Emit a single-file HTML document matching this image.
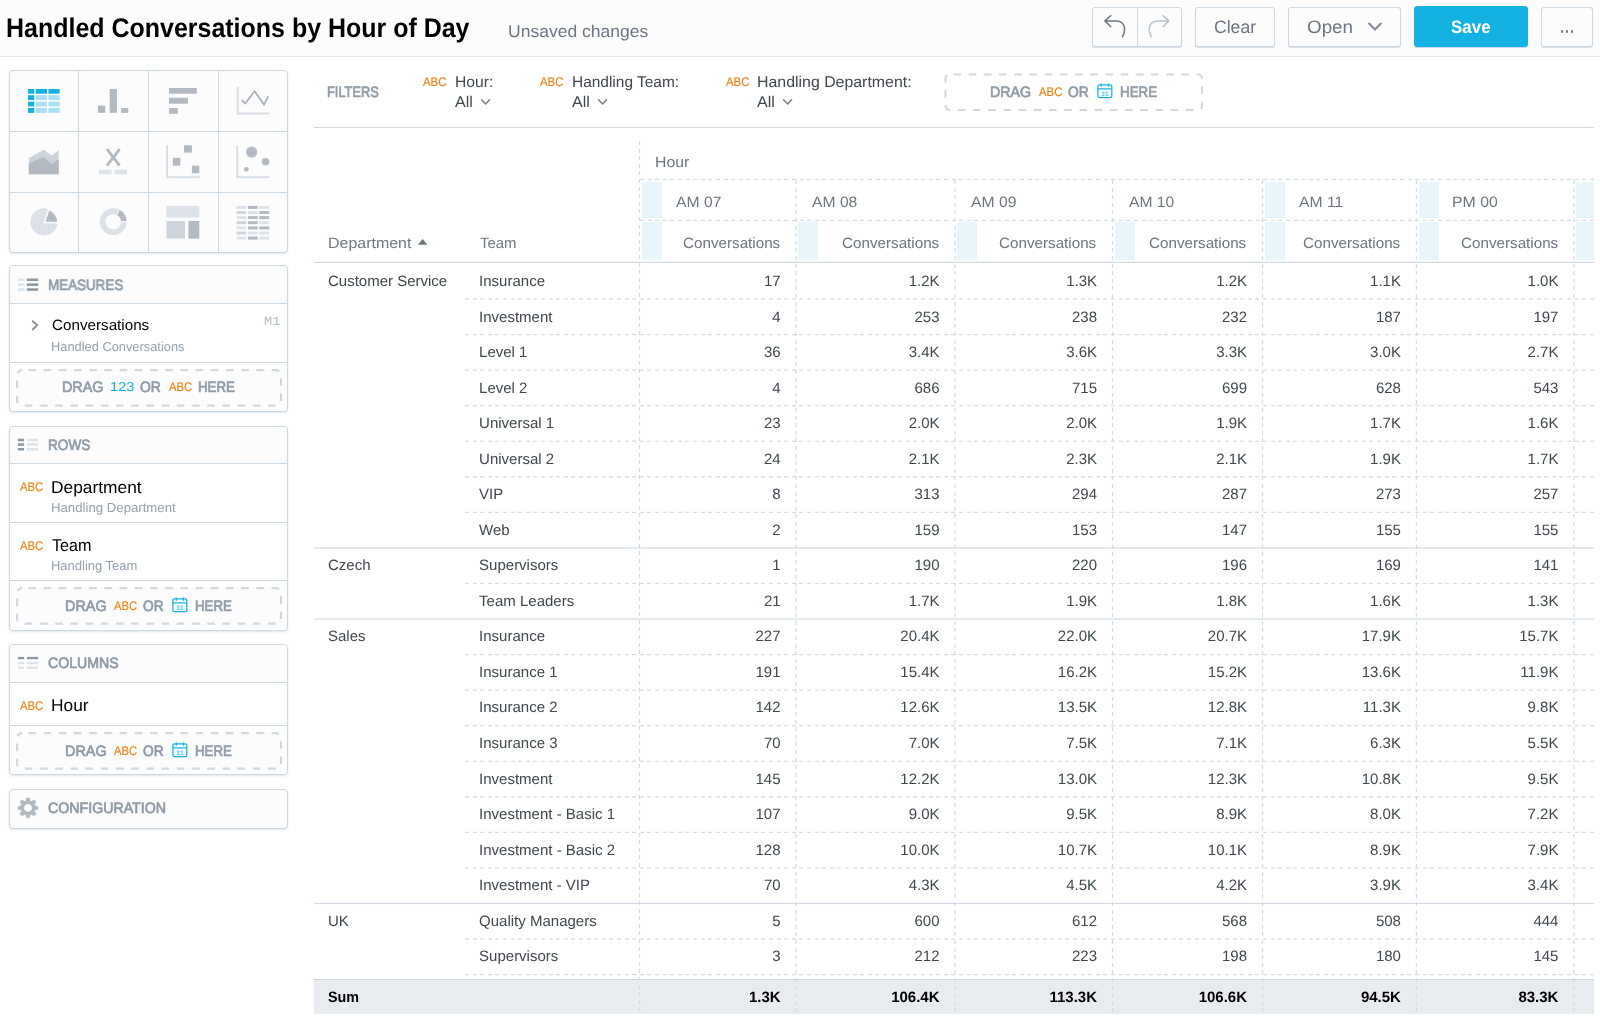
<!DOCTYPE html><html><head><meta charset="utf-8"><title>Handled Conversations by Hour of Day</title><style>
*{box-sizing:border-box;margin:0;padding:0}
html,body{width:1600px;height:1021px;overflow:hidden;background:#fff}
body{font-family:"Liberation Sans",sans-serif;color:#3f474f;position:relative}
#w{position:absolute;left:0;top:0;width:1600px;height:1021px;will-change:transform;text-rendering:geometricPrecision}
.a{position:absolute;white-space:pre;line-height:20px;transform-origin:0 0}
.hdr{position:absolute;left:0;top:0;width:1600px;height:57px;background:#fcfcfd;border-bottom:1px solid #dde4eb}
.btn{position:absolute;top:7px;height:40px;border:1px solid #ccd8e2;border-radius:3px;background:#fcfcfd;box-shadow:0 1px 1px rgba(20,56,93,.15)}
.box{position:absolute;left:9px;width:279px;border:1px solid #ccd8e2;border-radius:4px;background:#fff;box-shadow:0 1px 2px rgba(20,56,93,.12);overflow:hidden}
.bh{position:absolute;left:0;top:0;width:100%;background:#fcfcfd;border-bottom:1px solid #ccd8e2}
.hl{position:absolute;left:0;width:100%;height:1px;background:#ccd8e2}
.drop{position:absolute;left:6px;width:266px;border-radius:5px;background:#fcfcfd}
.bt{color:#8f9ba6;-webkit-text-stroke:0.7px #8f9ba6}
.abc{color:#ef800f;-webkit-text-stroke:0.15px #ef800f}
.sub{color:#94a1ad}
.k{color:#000}
.hd{position:absolute;height:1px;background:repeating-linear-gradient(to right,#d3dbe3 0,#d3dbe3 4px,transparent 4px,transparent 7.6px)}
.vd{position:absolute;width:1px;background:repeating-linear-gradient(to bottom,#d3dbe3 0,#d3dbe3 4px,transparent 4px,transparent 7.6px)}
.sl{position:absolute;height:1px;background:#d3dce5}
.t{font-size:15px;color:#3f474f}
.th{color:#6d7680}
.bl{position:absolute;background:#e8f6fc}
.b{font-weight:700;color:#000}
</style></head><body><div id="w"><div class="hdr"></div><div class="a k" style="left:6.48px;top:18px;font-size:27px;transform:scaleX(0.9250);;font-weight:700">Handled Conversations by Hour of Day</div><div class="a " style="left:508.39px;top:22px;font-size:17px;transform:scaleX(1.0304);color:#6d7680">Unsaved changes</div><div class="btn" style="left:1092px;width:90px"></div><div class="a" style="left:1137px;top:8px;width:1px;height:38px;background:#ccd8e2"></div><svg class="a" style="left:1095px;top:8px" width="85" height="38" viewBox="1095 8 85 38"><path d="M1111.3 15.2 L1104.9 20.9 L1111.1 27 M1105.2 20.9 H1116 C1123.5 20.9 1127.3 27.5 1122.2 37.3" fill="none" stroke="#6d7680" stroke-width="1.5" stroke-linejoin="round"/><path d="M1162.5 15.2 L1168.9 20.9 L1162.7 27 M1168.6 20.9 H1158 C1150.3 20.9 1146.5 27.5 1151.6 37.3" fill="none" stroke="#b8c2cc" stroke-width="1.5" stroke-linejoin="round"/></svg><div class="btn" style="left:1195px;width:80px"></div><div class="a " style="left:1213.92px;top:17px;font-size:18px;transform:scaleX(0.9773);color:#6d7680">Clear</div><div class="btn" style="left:1288px;width:113px"></div><div class="a " style="left:1306.75px;top:17px;font-size:18px;transform:scaleX(1.0446);color:#6d7680">Open</div><svg class="a" style="left:1365px;top:19px" width="20" height="14" viewBox="1365 19 20 14"><path d="M1369.1 23.6 L1375 29.6 L1380.9 23.6" fill="none" stroke="#828c96" stroke-width="2.1" stroke-linecap="round" stroke-linejoin="round"/></svg><div class="btn" style="left:1414px;width:114px;top:6px;height:41px;background:#14b2e2;border-color:#14b2e2;box-shadow:0 1px 1px rgba(20,56,93,.2)"></div><div class="a " style="left:1450.58px;top:17px;font-size:18px;transform:scaleX(0.9442);color:#fff;font-weight:700">Save</div><div class="btn" style="left:1541px;width:52px"></div><div class="a" style="left:1560.8px;top:30.4px;width:2.4px;height:2.6px;background:#6d7680;border-radius:1px"></div><div class="a" style="left:1565.9px;top:30.4px;width:2.4px;height:2.6px;background:#6d7680;border-radius:1px"></div><div class="a" style="left:1571px;top:30.4px;width:2.4px;height:2.6px;background:#6d7680;border-radius:1px"></div><div class="box" style="top:70px;height:183px;background:#fcfcfd"><div class="a" style="left:68px;top:0;width:1px;height:182px;background:#ccd8e2"></div><div class="a" style="left:138px;top:0;width:1px;height:182px;background:#ccd8e2"></div><div class="a" style="left:208px;top:0;width:1px;height:182px;background:#ccd8e2"></div><div class="a" style="left:0;top:60px;width:279px;height:1px;background:#ccd8e2"></div><div class="a" style="left:0;top:121px;width:279px;height:1px;background:#ccd8e2"></div></div><svg class="a" style="left:10px;top:71px" width="278" height="181" viewBox="10 71 278 181"><rect x="28.00" y="89.00" width="6.30" height="4.70" fill="#14b2e2"/><rect x="35.60" y="89.00" width="11.40" height="4.70" fill="#14b2e2"/><rect x="48.40" y="89.00" width="11.30" height="4.70" fill="#14b2e2"/><rect x="28.00" y="95.20" width="6.30" height="4.80" fill="#14b2e2"/><rect x="35.60" y="95.20" width="11.40" height="4.80" fill="#a9def3"/><rect x="48.40" y="95.20" width="11.30" height="4.80" fill="#a9def3"/><rect x="28.00" y="101.70" width="6.30" height="4.70" fill="#14b2e2"/><rect x="35.60" y="101.70" width="11.40" height="4.70" fill="#a9def3"/><rect x="48.40" y="101.70" width="11.30" height="4.70" fill="#a9def3"/><rect x="28.00" y="108.00" width="6.30" height="4.90" fill="#14b2e2"/><rect x="35.60" y="108.00" width="11.40" height="4.90" fill="#a9def3"/><rect x="48.40" y="108.00" width="11.30" height="4.90" fill="#a9def3"/><rect x="97.90" y="105.60" width="7.40" height="7.30" fill="#b3bac1"/><rect x="109.70" y="89.00" width="7.20" height="23.90" fill="#b3bac1"/><rect x="121.00" y="108.00" width="7.30" height="4.90" fill="#b3bac1"/><rect x="169.00" y="88.00" width="27.80" height="5.70" fill="#b3bac1"/><rect x="169.00" y="97.80" width="19.00" height="5.90" fill="#b3bac1"/><rect x="169.00" y="108.00" width="8.80" height="5.80" fill="#b3bac1"/><rect x="236.80" y="87.00" width="1.90" height="27.40" fill="#d6dde4"/><rect x="236.80" y="112.50" width="32.40" height="1.90" fill="#d6dde4"/><path d="M241.8 100.1 L245.2 103.5 L254.6 91.3 L264 104.6 L268.3 96.2" fill="none" stroke="#a9b1b9" stroke-width="1.8" stroke-linejoin="miter"/><path d="M28.8 157.9 L44 149.7 L51.9 155.6 L58.7 150.1 V174.2 H28.8 Z" fill="#cdd4db"/><path d="M28.8 163.6 L43.6 157 L52 163.9 L58.7 159 V174.2 H28.8 Z" fill="#b3bac1"/><path d="M107 149.2 L119.6 165.7 M119.6 149.2 L107 165.7" fill="none" stroke="#b3bac1" stroke-width="2.8"/><rect x="98.90" y="169.70" width="12.70" height="4.50" fill="#dce2e8"/><rect x="114.50" y="169.70" width="12.40" height="4.50" fill="#dce2e8"/><rect x="166.20" y="145.20" width="1.90" height="32.90" fill="#d6dde4"/><rect x="166.20" y="176.20" width="33.50" height="1.90" fill="#d6dde4"/><rect x="184.00" y="145.20" width="7.90" height="7.40" fill="#b3bac1"/><rect x="172.90" y="157.90" width="7.40" height="7.80" fill="#b3bac1"/><rect x="191.90" y="165.70" width="7.40" height="7.50" fill="#b3bac1"/><rect x="236.30" y="145.20" width="1.90" height="32.90" fill="#d6dde4"/><rect x="236.30" y="176.20" width="32.90" height="1.90" fill="#d6dde4"/><circle cx="251.6" cy="152" r="5.6" fill="#b3bac1"/><circle cx="265.5" cy="161.8" r="3.8" fill="#b3bac1"/><circle cx="246.3" cy="169.3" r="2.4" fill="#b3bac1"/><circle cx="44" cy="221.9" r="13.6" fill="#dce2e8"/><path d="M44.4 222.6 L48.8 209.6 A13.6 13.6 0 0 1 58 222.6 Z" fill="#b3bac1" stroke="#fcfcfd" stroke-width="1.6" stroke-linejoin="miter"/><circle cx="113.2" cy="221.7" r="10.6" fill="none" stroke="#dce2e8" stroke-width="5.6"/><path d="M118 212.3 A10.6 10.6 0 0 1 123.8 221.7" fill="none" stroke="#b3bac1" stroke-width="5.6"/><path d="M116.6 215.2 L119.4 209.6 M120.6 221.7 H126.8" stroke="#fcfcfd" stroke-width="1" fill="none"/><rect x="166.40" y="205.90" width="32.90" height="11.70" fill="#dce2e8"/><rect x="166.40" y="221.00" width="18.60" height="17.60" fill="#cdd4db"/><rect x="188.40" y="221.00" width="10.90" height="17.60" fill="#b3bac1"/><rect x="236.50" y="205.90" width="9.80" height="3.00" fill="#dce2e8"/><rect x="247.90" y="205.90" width="9.80" height="3.00" fill="#b3bac1"/><rect x="259.30" y="205.90" width="9.90" height="3.00" fill="#dce2e8"/><rect x="236.50" y="211.00" width="9.80" height="3.00" fill="#cdd4db"/><rect x="247.90" y="211.00" width="9.80" height="3.00" fill="#dce2e8"/><rect x="259.30" y="211.00" width="9.90" height="3.00" fill="#b3bac1"/><rect x="236.50" y="216.10" width="9.80" height="3.00" fill="#dce2e8"/><rect x="247.90" y="216.10" width="9.80" height="3.00" fill="#b3bac1"/><rect x="259.30" y="216.10" width="9.90" height="3.00" fill="#b3bac1"/><rect x="236.50" y="221.20" width="9.80" height="3.00" fill="#cdd4db"/><rect x="247.90" y="221.20" width="9.80" height="3.00" fill="#b3bac1"/><rect x="259.30" y="221.20" width="9.90" height="3.00" fill="#dce2e8"/><rect x="236.50" y="226.40" width="9.80" height="3.00" fill="#dce2e8"/><rect x="247.90" y="226.40" width="9.80" height="3.00" fill="#b3bac1"/><rect x="259.30" y="226.40" width="9.90" height="3.00" fill="#b3bac1"/><rect x="236.50" y="231.50" width="9.80" height="3.00" fill="#cdd4db"/><rect x="247.90" y="231.50" width="9.80" height="3.00" fill="#dce2e8"/><rect x="259.30" y="231.50" width="9.90" height="3.00" fill="#dce2e8"/><rect x="236.50" y="236.60" width="9.80" height="3.00" fill="#dce2e8"/><rect x="247.90" y="236.60" width="9.80" height="3.00" fill="#b3bac1"/><rect x="259.30" y="236.60" width="9.90" height="3.00" fill="#dce2e8"/></svg><div class="box" style="top:265px;height:147px"><div class="bh" style="height:38px"></div><div class="hl" style="top:96px"></div><div class="drop" style="top:103px;height:38px"></div></div><div class="box" style="top:426px;height:205px"><div class="bh" style="height:37px"></div><div class="hl" style="top:95px"></div><div class="hl" style="top:153px"></div><div class="drop" style="top:160px;height:38px"></div></div><div class="box" style="top:644px;height:131px"><div class="bh" style="height:38px"></div><div class="hl" style="top:80px"></div><div class="drop" style="top:87px;height:38px"></div></div><div class="box" style="top:789px;height:40px;background:#fcfcfd"></div><svg class="a" style="left:16px;top:276px" width="24" height="396" viewBox="16 276 24 396"><rect x="18.00" y="278.50" width="6.50" height="2.50" fill="#dde3e8"/><rect x="26.80" y="278.50" width="11.40" height="2.50" fill="#8c97a1"/><rect x="18.00" y="283.40" width="6.50" height="2.50" fill="#dde3e8"/><rect x="26.80" y="283.40" width="11.40" height="2.50" fill="#8c97a1"/><rect x="18.00" y="288.30" width="6.50" height="2.50" fill="#dde3e8"/><rect x="26.80" y="288.30" width="11.40" height="2.50" fill="#8c97a1"/><rect x="17.90" y="438.75" width="6.20" height="2.50" fill="#8c97a1"/><rect x="26.90" y="438.75" width="11.20" height="2.50" fill="#dde3e8"/><rect x="17.90" y="443.30" width="6.20" height="2.50" fill="#8c97a1"/><rect x="26.90" y="443.30" width="11.20" height="2.50" fill="#dde3e8"/><rect x="17.90" y="448.00" width="6.20" height="2.50" fill="#8c97a1"/><rect x="26.90" y="448.00" width="11.20" height="2.50" fill="#dde3e8"/><rect x="17.90" y="656.90" width="6.20" height="2.30" fill="#8c97a1"/><rect x="26.90" y="656.90" width="11.20" height="2.30" fill="#8c97a1"/><rect x="17.90" y="661.90" width="6.20" height="2.30" fill="#dde3e8"/><rect x="26.90" y="661.90" width="11.20" height="2.30" fill="#dde3e8"/><rect x="17.90" y="666.60" width="6.20" height="2.30" fill="#dde3e8"/><rect x="26.90" y="666.60" width="11.20" height="2.30" fill="#dde3e8"/></svg><svg class="a" style="left:16px;top:796px" width="24" height="24" viewBox="16 796 24 24"><path d="M37.89 806.41 L37.89 809.39 L35.05 809.78 L34.32 811.56 L36.05 813.83 L33.93 815.95 L31.66 814.22 L29.88 814.95 L29.49 817.79 L26.51 817.79 L26.12 814.95 L24.34 814.22 L22.07 815.95 L19.95 813.83 L21.68 811.56 L20.95 809.78 L18.11 809.39 L18.11 806.41 L20.95 806.02 L21.68 804.24 L19.95 801.97 L22.07 799.85 L24.34 801.58 L26.12 800.85 L26.51 798.01 L29.49 798.01 L29.88 800.85 L31.66 801.58 L33.93 799.85 L36.05 801.97 L34.32 804.24 L35.05 806.02 Z M32.2 807.9 A4.2 4.2 0 1 0 23.8 807.9 A4.2 4.2 0 1 0 32.2 807.9 Z" fill="#b0b8c0" fill-rule="evenodd" stroke="#b0b8c0" stroke-width="0.6" stroke-linejoin="round"/></svg><svg class="a" style="left:13.5px;top:366.5px" width="270.1" height="41.69999999999999"><rect x="3.1" y="3.1" width="263.90000000000003" height="35.499999999999986" rx="5" fill="none" stroke="#d0d8e0" stroke-width="2.2" stroke-dasharray="7.6 7.6" stroke-dashoffset="-6.3"/></svg><svg class="a" style="left:13.5px;top:585px" width="270.1" height="41.700000000000045"><rect x="3.1" y="3.1" width="263.90000000000003" height="35.50000000000004" rx="5" fill="none" stroke="#d0d8e0" stroke-width="2.2" stroke-dasharray="7.6 7.6" stroke-dashoffset="-6.3"/></svg><svg class="a" style="left:13.5px;top:730px" width="270.1" height="41.700000000000045"><rect x="3.1" y="3.1" width="263.90000000000003" height="35.50000000000004" rx="5" fill="none" stroke="#d0d8e0" stroke-width="2.2" stroke-dasharray="7.6 7.6" stroke-dashoffset="-6.3"/></svg><div class="a bt" style="left:47.93px;top:276px;font-size:15px;transform:scaleX(0.8937);">MEASURES</div><div class="a bt" style="left:47.61px;top:436px;font-size:15px;transform:scaleX(0.9075);">ROWS</div><div class="a bt" style="left:47.99px;top:654px;font-size:15px;transform:scaleX(0.9423);">COLUMNS</div><div class="a bt" style="left:47.99px;top:799px;font-size:15px;transform:scaleX(0.9464);">CONFIGURATION</div><svg class="a" style="left:29px;top:318px" width="12" height="15" viewBox="29 318 12 15"><path d="M32.2 320.6 L37.2 325.3 L32.2 330" fill="none" stroke="#8a939c" stroke-width="1.9" stroke-linejoin="miter"/></svg><div class="a k" style="left:51.74px;top:316px;font-size:15px;transform:scaleX(1.0140);">Conversations</div><div class="a sub" style="left:51.47px;top:337px;font-size:13px;transform:scaleX(0.9877);">Handled Conversations</div><div class="a " style="left:263.88px;top:312px;font-size:12.5px;transform:scaleX(1.0886);font-family:'Liberation Mono',monospace;color:#b0beca">M1</div><div class="a bt" style="left:61.85px;top:378px;font-size:15px;transform:scaleX(0.9555);">DRAG</div><div class="a " style="left:109.70px;top:377px;font-size:13px;transform:scaleX(1.1266);color:#14b2e2">123</div><div class="a bt" style="left:139.98px;top:378px;font-size:15px;transform:scaleX(0.9234);">OR</div><div class="a abc" style="left:169.00px;top:377px;font-size:12.5px;transform:scaleX(0.9069);">ABC</div><div class="a bt" style="left:197.64px;top:378px;font-size:15px;transform:scaleX(0.8864);">HERE</div><div class="a abc" style="left:20.30px;top:477px;font-size:12.5px;transform:scaleX(0.9030);">ABC</div><div class="a k" style="left:51.01px;top:478px;font-size:17px;transform:scaleX(1.0208);">Department</div><div class="a sub" style="left:51.34px;top:498px;font-size:13px;transform:scaleX(1.0152);">Handling Department</div><div class="a abc" style="left:20.30px;top:536px;font-size:12.5px;transform:scaleX(0.9030);">ABC</div><div class="a k" style="left:52.08px;top:536px;font-size:17px;transform:scaleX(0.9497);">Team</div><div class="a sub" style="left:51.36px;top:556px;font-size:13px;transform:scaleX(0.9985);">Handling Team</div><div class="a bt" style="left:65.05px;top:597px;font-size:15px;transform:scaleX(0.9604);">DRAG</div><div class="a abc" style="left:114.20px;top:596px;font-size:12.5px;transform:scaleX(0.9030);">ABC</div><div class="a bt" style="left:143.38px;top:597px;font-size:15px;transform:scaleX(0.9140);">OR</div><svg class="a" style="left:172px;top:596.6px" width="16" height="16" viewBox="0 0 16 16"><rect x="0.9" y="1.9" width="13.9" height="12.6" rx="1.6" fill="none" stroke="#14b2e2" stroke-width="1.25"/><path d="M1 5.9 H14.7 M4.3 0.5 V3.7 M11.4 0.5 V3.7" stroke="#14b2e2" stroke-width="1.25" fill="none"/><text x="7.9" y="12.6" font-family="Liberation Sans" font-size="6.6" font-weight="700" fill="#4cc3ea" text-anchor="middle">31</text></svg><div class="a bt" style="left:194.64px;top:597px;font-size:15px;transform:scaleX(0.8864);">HERE</div><div class="a bt" style="left:65.05px;top:742px;font-size:15px;transform:scaleX(0.9604);">DRAG</div><div class="a abc" style="left:114.20px;top:741px;font-size:12.5px;transform:scaleX(0.9030);">ABC</div><div class="a bt" style="left:143.38px;top:742px;font-size:15px;transform:scaleX(0.9140);">OR</div><svg class="a" style="left:172px;top:741.6px" width="16" height="16" viewBox="0 0 16 16"><rect x="0.9" y="1.9" width="13.9" height="12.6" rx="1.6" fill="none" stroke="#14b2e2" stroke-width="1.25"/><path d="M1 5.9 H14.7 M4.3 0.5 V3.7 M11.4 0.5 V3.7" stroke="#14b2e2" stroke-width="1.25" fill="none"/><text x="7.9" y="12.6" font-family="Liberation Sans" font-size="6.6" font-weight="700" fill="#4cc3ea" text-anchor="middle">31</text></svg><div class="a bt" style="left:194.64px;top:742px;font-size:15px;transform:scaleX(0.8864);">HERE</div><div class="a abc" style="left:20.30px;top:696px;font-size:12.5px;transform:scaleX(0.9030);">ABC</div><div class="a k" style="left:51.01px;top:696px;font-size:17px;transform:scaleX(1.0206);">Hour</div><div class="sl" style="left:314px;top:127px;width:1280px;background:#d0d9e2"></div><div class="a bt" style="left:327.27px;top:83px;font-size:15px;transform:scaleX(0.8548);">FILTERS</div><div class="a abc" style="left:423.00px;top:72px;font-size:12.5px;transform:scaleX(0.9109);">ABC</div><div class="a " style="left:454.95px;top:73px;font-size:15.5px;transform:scaleX(1.0102);">Hour:</div><div class="a " style="left:455.20px;top:93px;font-size:15.5px;transform:scaleX(1.0323);">All</div><svg class="a" style="left:479.9px;top:97px" width="12" height="10" viewBox="0 0 12 10"><path d="M1.6 2.7 L5.6 6.9 L9.6 2.7" fill="none" stroke="#747e88" stroke-width="1.5" stroke-linecap="round" stroke-linejoin="round"/></svg><div class="a abc" style="left:540.00px;top:72px;font-size:12.5px;transform:scaleX(0.9109);">ABC</div><div class="a " style="left:571.56px;top:73px;font-size:15.5px;transform:scaleX(0.9966);">Handling Team:</div><div class="a " style="left:571.80px;top:93px;font-size:15.5px;transform:scaleX(1.0323);">All</div><svg class="a" style="left:596.5px;top:97px" width="12" height="10" viewBox="0 0 12 10"><path d="M1.6 2.7 L5.6 6.9 L9.6 2.7" fill="none" stroke="#747e88" stroke-width="1.5" stroke-linecap="round" stroke-linejoin="round"/></svg><div class="a abc" style="left:726.00px;top:72px;font-size:12.5px;transform:scaleX(0.9109);">ABC</div><div class="a " style="left:757.13px;top:73px;font-size:15.5px;transform:scaleX(1.0251);">Handling Department:</div><div class="a " style="left:757.40px;top:93px;font-size:15.5px;transform:scaleX(1.0323);">All</div><svg class="a" style="left:782.1px;top:97px" width="12" height="10" viewBox="0 0 12 10"><path d="M1.6 2.7 L5.6 6.9 L9.6 2.7" fill="none" stroke="#747e88" stroke-width="1.5" stroke-linecap="round" stroke-linejoin="round"/></svg><svg class="a" style="left:943px;top:72px" width="262" height="41"><rect x="2.5" y="2.5" width="256.5" height="35.5" rx="4" fill="#fff" stroke="#d0d8e0" stroke-width="2" stroke-dasharray="7.6 7.6" stroke-dashoffset="-4"/></svg><div class="a bt" style="left:989.86px;top:83px;font-size:15px;transform:scaleX(0.9506);">DRAG</div><div class="a abc" style="left:1039.00px;top:82px;font-size:12.5px;transform:scaleX(0.9109);">ABC</div><div class="a bt" style="left:1068.38px;top:83px;font-size:15px;transform:scaleX(0.9187);">OR</div><svg class="a" style="left:1097px;top:83px" width="16" height="16" viewBox="0 0 16 16"><rect x="0.9" y="1.9" width="13.9" height="12.6" rx="1.6" fill="none" stroke="#14b2e2" stroke-width="1.25"/><path d="M1 5.9 H14.7 M4.3 0.5 V3.7 M11.4 0.5 V3.7" stroke="#14b2e2" stroke-width="1.25" fill="none"/><text x="7.9" y="12.6" font-family="Liberation Sans" font-size="6.6" font-weight="700" fill="#4cc3ea" text-anchor="middle">31</text></svg><div class="a bt" style="left:1119.93px;top:83px;font-size:15px;transform:scaleX(0.8914);">HERE</div><div class="a" style="left:314px;top:979px;width:1280px;height:35px;background:#e8ecf0;border-top:1px solid #c9d5e0"></div><div class="bl" style="left:642px;top:182px;width:20px;height:36px"></div><div class="bl" style="left:642px;top:222px;width:20px;height:38px"></div><div class="bl" style="left:798px;top:222px;width:20px;height:38px"></div><div class="bl" style="left:957px;top:222px;width:20px;height:38px"></div><div class="bl" style="left:1115px;top:222px;width:20px;height:38px"></div><div class="bl" style="left:1265px;top:182px;width:20px;height:36px"></div><div class="bl" style="left:1265px;top:222px;width:20px;height:38px"></div><div class="bl" style="left:1419px;top:182px;width:20px;height:36px"></div><div class="bl" style="left:1419px;top:222px;width:20px;height:38px"></div><div class="bl" style="left:1576px;top:182px;width:18px;height:36px"></div><div class="bl" style="left:1576px;top:222px;width:18px;height:38px"></div><div class="hd" style="left:640px;top:178px;width:954px;opacity:0.10"></div><div class="hd" style="left:640px;top:179px;width:954px;opacity:1.00"></div><div class="hd" style="left:640px;top:180px;width:954px;opacity:0.10"></div><div class="hd" style="left:640px;top:219px;width:954px;opacity:0.20"></div><div class="hd" style="left:640px;top:220px;width:954px;opacity:1.00"></div><div class="sl" style="left:314px;top:261px;width:1280px;opacity:0.25;background:#cfd8e1"></div><div class="sl" style="left:314px;top:262px;width:1280px;opacity:0.95;background:#cfd8e1"></div><div class="hd" style="left:465px;top:298px;width:1129px;opacity:0.60"></div><div class="hd" style="left:465px;top:299px;width:1129px;opacity:0.60"></div><div class="hd" style="left:465px;top:334px;width:1129px;opacity:1.00"></div><div class="hd" style="left:465px;top:335px;width:1129px;opacity:0.16"></div><div class="hd" style="left:465px;top:369px;width:1129px;opacity:0.49"></div><div class="hd" style="left:465px;top:370px;width:1129px;opacity:0.71"></div><div class="hd" style="left:465px;top:405px;width:1129px;opacity:0.93"></div><div class="hd" style="left:465px;top:406px;width:1129px;opacity:0.27"></div><div class="hd" style="left:465px;top:440px;width:1129px;opacity:0.37"></div><div class="hd" style="left:465px;top:441px;width:1129px;opacity:0.83"></div><div class="hd" style="left:465px;top:476px;width:1129px;opacity:0.81"></div><div class="hd" style="left:465px;top:477px;width:1129px;opacity:0.39"></div><div class="hd" style="left:465px;top:511px;width:1129px;opacity:0.25"></div><div class="hd" style="left:465px;top:512px;width:1129px;opacity:0.95"></div><div class="sl" style="left:314px;top:547px;width:1280px;opacity:0.70"></div><div class="sl" style="left:314px;top:548px;width:1280px;opacity:0.50"></div><div class="hd" style="left:465px;top:582px;width:1129px;opacity:0.14"></div><div class="hd" style="left:465px;top:583px;width:1129px;opacity:1.00"></div><div class="sl" style="left:314px;top:618px;width:1280px;opacity:0.58"></div><div class="sl" style="left:314px;top:619px;width:1280px;opacity:0.62"></div><div class="hd" style="left:465px;top:654px;width:1129px;opacity:1.00"></div><div class="hd" style="left:465px;top:655px;width:1129px;opacity:0.18"></div><div class="hd" style="left:465px;top:689px;width:1129px;opacity:0.46"></div><div class="hd" style="left:465px;top:690px;width:1129px;opacity:0.74"></div><div class="hd" style="left:465px;top:725px;width:1129px;opacity:0.91"></div><div class="hd" style="left:465px;top:726px;width:1129px;opacity:0.29"></div><div class="hd" style="left:465px;top:760px;width:1129px;opacity:0.35"></div><div class="hd" style="left:465px;top:761px;width:1129px;opacity:0.85"></div><div class="hd" style="left:465px;top:796px;width:1129px;opacity:0.79"></div><div class="hd" style="left:465px;top:797px;width:1129px;opacity:0.41"></div><div class="hd" style="left:465px;top:831px;width:1129px;opacity:0.23"></div><div class="hd" style="left:465px;top:832px;width:1129px;opacity:0.97"></div><div class="hd" style="left:465px;top:867px;width:1129px;opacity:0.67"></div><div class="hd" style="left:465px;top:868px;width:1129px;opacity:0.53"></div><div class="sl" style="left:314px;top:902px;width:1280px;opacity:0.12"></div><div class="sl" style="left:314px;top:903px;width:1280px;opacity:1.00"></div><div class="sl" style="left:314px;top:904px;width:1280px;opacity:0.08"></div><div class="hd" style="left:465px;top:938px;width:1129px;opacity:0.56"></div><div class="hd" style="left:465px;top:939px;width:1129px;opacity:0.64"></div><div class="hd" style="left:465px;top:974px;width:1129px;opacity:1.00"></div><div class="hd" style="left:465px;top:975px;width:1129px;opacity:0.20"></div><div class="vd" style="left:638px;top:141px;height:873px;opacity:0.10"></div><div class="vd" style="left:639px;top:141px;height:873px;opacity:1.00"></div><div class="vd" style="left:640px;top:141px;height:873px;opacity:0.10"></div><div class="vd" style="left:795px;top:180px;height:834px;opacity:0.54"></div><div class="vd" style="left:796px;top:180px;height:834px;opacity:0.66"></div><div class="vd" style="left:954px;top:180px;height:834px;opacity:0.60"></div><div class="vd" style="left:955px;top:180px;height:834px;opacity:0.60"></div><div class="vd" style="left:1111px;top:180px;height:834px;opacity:0.10"></div><div class="vd" style="left:1112px;top:180px;height:834px;opacity:1.00"></div><div class="vd" style="left:1113px;top:180px;height:834px;opacity:0.10"></div><div class="vd" style="left:1261px;top:180px;height:834px;opacity:0.10"></div><div class="vd" style="left:1262px;top:180px;height:834px;opacity:1.00"></div><div class="vd" style="left:1263px;top:180px;height:834px;opacity:0.10"></div><div class="vd" style="left:1415px;top:180px;height:834px;opacity:0.20"></div><div class="vd" style="left:1416px;top:180px;height:834px;opacity:1.00"></div><div class="vd" style="left:1573px;top:180px;height:834px;opacity:0.70"></div><div class="vd" style="left:1574px;top:180px;height:834px;opacity:0.50"></div><div class="a t th" style="left:654.84px;top:153px;font-size:15px;transform:scaleX(1.0538);">Hour</div><div class="a t th" style="left:676.10px;top:193px;font-size:15px;transform:scaleX(1.0475);">AM 07</div><div class="a t th" style="left:682.80px;top:234px;font-size:15px;transform:scaleX(1.0140);">Conversations</div><div class="a t th" style="left:812.26px;top:193px;font-size:15px;transform:scaleX(1.0456);">AM 08</div><div class="a t th" style="left:841.74px;top:234px;font-size:15px;transform:scaleX(1.0140);">Conversations</div><div class="a t th" style="left:971.20px;top:193px;font-size:15px;transform:scaleX(1.0475);">AM 09</div><div class="a t th" style="left:999.24px;top:234px;font-size:15px;transform:scaleX(1.0140);">Conversations</div><div class="a t th" style="left:1128.70px;top:193px;font-size:15px;transform:scaleX(1.0438);">AM 10</div><div class="a t th" style="left:1149.24px;top:234px;font-size:15px;transform:scaleX(1.0140);">Conversations</div><div class="a t th" style="left:1299.10px;top:193px;font-size:15px;transform:scaleX(1.0469);">AM 11</div><div class="a t th" style="left:1303.14px;top:234px;font-size:15px;transform:scaleX(1.0140);">Conversations</div><div class="a t th" style="left:1451.73px;top:193px;font-size:15px;transform:scaleX(1.0547);">PM 00</div><div class="a t th" style="left:1460.64px;top:234px;font-size:15px;transform:scaleX(1.0140);">Conversations</div><div class="a t th" style="left:328.32px;top:234px;font-size:15px;transform:scaleX(1.0636);">Department</div><svg class="a" style="left:417px;top:238px" width="12" height="8" viewBox="417 238 12 8"><path d="M422.6 239.1 L427.3 244.7 H417.9 Z" fill="#6d7680"/></svg><div class="a t th" style="left:480.40px;top:234px;font-size:15px;transform:scaleX(0.9915);">Team</div><div class="a t" style="left:328px;top:272px;font-size:15px;">Customer Service</div><div class="a t" style="left:479.1px;top:272px;font-size:15px;">Insurance</div><div class="a t" style="right:819.44px;top:272px;font-size:15px;">17</div><div class="a t" style="right:660.50px;top:272px;font-size:15px;">1.2K</div><div class="a t" style="right:503.00px;top:272px;font-size:15px;">1.3K</div><div class="a t" style="right:353.00px;top:272px;font-size:15px;">1.2K</div><div class="a t" style="right:199.10px;top:272px;font-size:15px;">1.1K</div><div class="a t" style="right:41.60px;top:272px;font-size:15px;">1.0K</div><div class="a t" style="left:479.1px;top:308px;font-size:15px;">Investment</div><div class="a t" style="right:819.44px;top:308px;font-size:15px;">4</div><div class="a t" style="right:660.50px;top:308px;font-size:15px;">253</div><div class="a t" style="right:503.00px;top:308px;font-size:15px;">238</div><div class="a t" style="right:353.00px;top:308px;font-size:15px;">232</div><div class="a t" style="right:199.10px;top:308px;font-size:15px;">187</div><div class="a t" style="right:41.60px;top:308px;font-size:15px;">197</div><div class="a t" style="left:479.1px;top:343px;font-size:15px;">Level 1</div><div class="a t" style="right:819.44px;top:343px;font-size:15px;">36</div><div class="a t" style="right:660.50px;top:343px;font-size:15px;">3.4K</div><div class="a t" style="right:503.00px;top:343px;font-size:15px;">3.6K</div><div class="a t" style="right:353.00px;top:343px;font-size:15px;">3.3K</div><div class="a t" style="right:199.10px;top:343px;font-size:15px;">3.0K</div><div class="a t" style="right:41.60px;top:343px;font-size:15px;">2.7K</div><div class="a t" style="left:479.1px;top:379px;font-size:15px;">Level 2</div><div class="a t" style="right:819.44px;top:379px;font-size:15px;">4</div><div class="a t" style="right:660.50px;top:379px;font-size:15px;">686</div><div class="a t" style="right:503.00px;top:379px;font-size:15px;">715</div><div class="a t" style="right:353.00px;top:379px;font-size:15px;">699</div><div class="a t" style="right:199.10px;top:379px;font-size:15px;">628</div><div class="a t" style="right:41.60px;top:379px;font-size:15px;">543</div><div class="a t" style="left:479.1px;top:414px;font-size:15px;">Universal 1</div><div class="a t" style="right:819.44px;top:414px;font-size:15px;">23</div><div class="a t" style="right:660.50px;top:414px;font-size:15px;">2.0K</div><div class="a t" style="right:503.00px;top:414px;font-size:15px;">2.0K</div><div class="a t" style="right:353.00px;top:414px;font-size:15px;">1.9K</div><div class="a t" style="right:199.10px;top:414px;font-size:15px;">1.7K</div><div class="a t" style="right:41.60px;top:414px;font-size:15px;">1.6K</div><div class="a t" style="left:479.1px;top:450px;font-size:15px;">Universal 2</div><div class="a t" style="right:819.44px;top:450px;font-size:15px;">24</div><div class="a t" style="right:660.50px;top:450px;font-size:15px;">2.1K</div><div class="a t" style="right:503.00px;top:450px;font-size:15px;">2.3K</div><div class="a t" style="right:353.00px;top:450px;font-size:15px;">2.1K</div><div class="a t" style="right:199.10px;top:450px;font-size:15px;">1.9K</div><div class="a t" style="right:41.60px;top:450px;font-size:15px;">1.7K</div><div class="a t" style="left:479.1px;top:485px;font-size:15px;">VIP</div><div class="a t" style="right:819.44px;top:485px;font-size:15px;">8</div><div class="a t" style="right:660.50px;top:485px;font-size:15px;">313</div><div class="a t" style="right:503.00px;top:485px;font-size:15px;">294</div><div class="a t" style="right:353.00px;top:485px;font-size:15px;">287</div><div class="a t" style="right:199.10px;top:485px;font-size:15px;">273</div><div class="a t" style="right:41.60px;top:485px;font-size:15px;">257</div><div class="a t" style="left:479.1px;top:521px;font-size:15px;">Web</div><div class="a t" style="right:819.44px;top:521px;font-size:15px;">2</div><div class="a t" style="right:660.50px;top:521px;font-size:15px;">159</div><div class="a t" style="right:503.00px;top:521px;font-size:15px;">153</div><div class="a t" style="right:353.00px;top:521px;font-size:15px;">147</div><div class="a t" style="right:199.10px;top:521px;font-size:15px;">155</div><div class="a t" style="right:41.60px;top:521px;font-size:15px;">155</div><div class="a t" style="left:328px;top:556px;font-size:15px;">Czech</div><div class="a t" style="left:479.1px;top:556px;font-size:15px;">Supervisors</div><div class="a t" style="right:819.44px;top:556px;font-size:15px;">1</div><div class="a t" style="right:660.50px;top:556px;font-size:15px;">190</div><div class="a t" style="right:503.00px;top:556px;font-size:15px;">220</div><div class="a t" style="right:353.00px;top:556px;font-size:15px;">196</div><div class="a t" style="right:199.10px;top:556px;font-size:15px;">169</div><div class="a t" style="right:41.60px;top:556px;font-size:15px;">141</div><div class="a t" style="left:479.1px;top:592px;font-size:15px;">Team Leaders</div><div class="a t" style="right:819.44px;top:592px;font-size:15px;">21</div><div class="a t" style="right:660.50px;top:592px;font-size:15px;">1.7K</div><div class="a t" style="right:503.00px;top:592px;font-size:15px;">1.9K</div><div class="a t" style="right:353.00px;top:592px;font-size:15px;">1.8K</div><div class="a t" style="right:199.10px;top:592px;font-size:15px;">1.6K</div><div class="a t" style="right:41.60px;top:592px;font-size:15px;">1.3K</div><div class="a t" style="left:328px;top:627px;font-size:15px;">Sales</div><div class="a t" style="left:479.1px;top:627px;font-size:15px;">Insurance</div><div class="a t" style="right:819.44px;top:627px;font-size:15px;">227</div><div class="a t" style="right:660.50px;top:627px;font-size:15px;">20.4K</div><div class="a t" style="right:503.00px;top:627px;font-size:15px;">22.0K</div><div class="a t" style="right:353.00px;top:627px;font-size:15px;">20.7K</div><div class="a t" style="right:199.10px;top:627px;font-size:15px;">17.9K</div><div class="a t" style="right:41.60px;top:627px;font-size:15px;">15.7K</div><div class="a t" style="left:479.1px;top:663px;font-size:15px;">Insurance 1</div><div class="a t" style="right:819.44px;top:663px;font-size:15px;">191</div><div class="a t" style="right:660.50px;top:663px;font-size:15px;">15.4K</div><div class="a t" style="right:503.00px;top:663px;font-size:15px;">16.2K</div><div class="a t" style="right:353.00px;top:663px;font-size:15px;">15.2K</div><div class="a t" style="right:199.10px;top:663px;font-size:15px;">13.6K</div><div class="a t" style="right:41.60px;top:663px;font-size:15px;">11.9K</div><div class="a t" style="left:479.1px;top:698px;font-size:15px;">Insurance 2</div><div class="a t" style="right:819.44px;top:698px;font-size:15px;">142</div><div class="a t" style="right:660.50px;top:698px;font-size:15px;">12.6K</div><div class="a t" style="right:503.00px;top:698px;font-size:15px;">13.5K</div><div class="a t" style="right:353.00px;top:698px;font-size:15px;">12.8K</div><div class="a t" style="right:199.10px;top:698px;font-size:15px;">11.3K</div><div class="a t" style="right:41.60px;top:698px;font-size:15px;">9.8K</div><div class="a t" style="left:479.1px;top:734px;font-size:15px;">Insurance 3</div><div class="a t" style="right:819.44px;top:734px;font-size:15px;">70</div><div class="a t" style="right:660.50px;top:734px;font-size:15px;">7.0K</div><div class="a t" style="right:503.00px;top:734px;font-size:15px;">7.5K</div><div class="a t" style="right:353.00px;top:734px;font-size:15px;">7.1K</div><div class="a t" style="right:199.10px;top:734px;font-size:15px;">6.3K</div><div class="a t" style="right:41.60px;top:734px;font-size:15px;">5.5K</div><div class="a t" style="left:479.1px;top:770px;font-size:15px;">Investment</div><div class="a t" style="right:819.44px;top:770px;font-size:15px;">145</div><div class="a t" style="right:660.50px;top:770px;font-size:15px;">12.2K</div><div class="a t" style="right:503.00px;top:770px;font-size:15px;">13.0K</div><div class="a t" style="right:353.00px;top:770px;font-size:15px;">12.3K</div><div class="a t" style="right:199.10px;top:770px;font-size:15px;">10.8K</div><div class="a t" style="right:41.60px;top:770px;font-size:15px;">9.5K</div><div class="a t" style="left:479.1px;top:805px;font-size:15px;">Investment - Basic 1</div><div class="a t" style="right:819.44px;top:805px;font-size:15px;">107</div><div class="a t" style="right:660.50px;top:805px;font-size:15px;">9.0K</div><div class="a t" style="right:503.00px;top:805px;font-size:15px;">9.5K</div><div class="a t" style="right:353.00px;top:805px;font-size:15px;">8.9K</div><div class="a t" style="right:199.10px;top:805px;font-size:15px;">8.0K</div><div class="a t" style="right:41.60px;top:805px;font-size:15px;">7.2K</div><div class="a t" style="left:479.1px;top:841px;font-size:15px;">Investment - Basic 2</div><div class="a t" style="right:819.44px;top:841px;font-size:15px;">128</div><div class="a t" style="right:660.50px;top:841px;font-size:15px;">10.0K</div><div class="a t" style="right:503.00px;top:841px;font-size:15px;">10.7K</div><div class="a t" style="right:353.00px;top:841px;font-size:15px;">10.1K</div><div class="a t" style="right:199.10px;top:841px;font-size:15px;">8.9K</div><div class="a t" style="right:41.60px;top:841px;font-size:15px;">7.9K</div><div class="a t" style="left:479.1px;top:876px;font-size:15px;">Investment - VIP</div><div class="a t" style="right:819.44px;top:876px;font-size:15px;">70</div><div class="a t" style="right:660.50px;top:876px;font-size:15px;">4.3K</div><div class="a t" style="right:503.00px;top:876px;font-size:15px;">4.5K</div><div class="a t" style="right:353.00px;top:876px;font-size:15px;">4.2K</div><div class="a t" style="right:199.10px;top:876px;font-size:15px;">3.9K</div><div class="a t" style="right:41.60px;top:876px;font-size:15px;">3.4K</div><div class="a t" style="left:328px;top:912px;font-size:15px;">UK</div><div class="a t" style="left:479.1px;top:912px;font-size:15px;">Quality Managers</div><div class="a t" style="right:819.44px;top:912px;font-size:15px;">5</div><div class="a t" style="right:660.50px;top:912px;font-size:15px;">600</div><div class="a t" style="right:503.00px;top:912px;font-size:15px;">612</div><div class="a t" style="right:353.00px;top:912px;font-size:15px;">568</div><div class="a t" style="right:199.10px;top:912px;font-size:15px;">508</div><div class="a t" style="right:41.60px;top:912px;font-size:15px;">444</div><div class="a t" style="left:479.1px;top:947px;font-size:15px;">Supervisors</div><div class="a t" style="right:819.44px;top:947px;font-size:15px;">3</div><div class="a t" style="right:660.50px;top:947px;font-size:15px;">212</div><div class="a t" style="right:503.00px;top:947px;font-size:15px;">223</div><div class="a t" style="right:353.00px;top:947px;font-size:15px;">198</div><div class="a t" style="right:199.10px;top:947px;font-size:15px;">180</div><div class="a t" style="right:41.60px;top:947px;font-size:15px;">145</div><div class="a t b" style="left:327.94px;top:988px;font-size:15px;transform:scaleX(0.9560);;font-weight:700">Sum</div><div class="a t b" style="right:819.44px;top:988px;font-size:15px;">1.3K</div><div class="a t b" style="right:660.50px;top:988px;font-size:15px;">106.4K</div><div class="a t b" style="right:503.00px;top:988px;font-size:15px;">113.3K</div><div class="a t b" style="right:353.00px;top:988px;font-size:15px;">106.6K</div><div class="a t b" style="right:199.10px;top:988px;font-size:15px;">94.5K</div><div class="a t b" style="right:41.60px;top:988px;font-size:15px;">83.3K</div></div></body></html>
